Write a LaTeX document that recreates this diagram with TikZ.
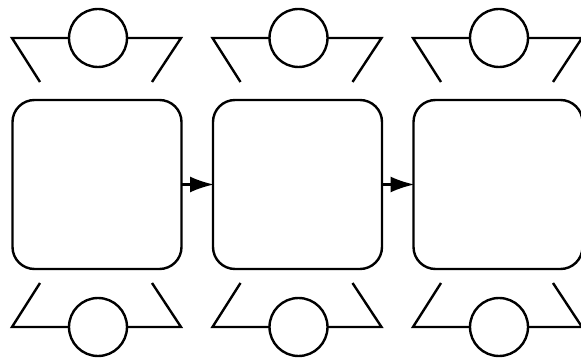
\documentclass[tikz,border=0pt]{standalone}
\usetikzlibrary{arrows.meta}
\begin{document}
\begin{tikzpicture}[x=1pt,y=-1pt,line width=2.4pt,
  stage/.style={draw,rounded corners=22pt,minimum width=169pt,minimum height=169pt,inner sep=0pt,outer sep=0pt},
  port/.style={draw,circle,minimum size=58pt,inner sep=0pt,outer sep=0pt},
  flow/.style={-{Latex[length=24pt,width=16pt]},line width=2.4pt,shorten >=-1pt},
  wing/.style={line join=miter,line cap=butt}]
\useasboundingbox (0,0) rectangle (581,363);
\clip (0,0) rectangle (581,363);
\foreach \i/\cx in {1/97,2/297.5,3/498}{
  \node[stage] (b\i) at (\cx,184.5) {};
  \node[port] (t\i) at (\cx+1,38) {};
  \node[port] (u\i) at (\cx+1,327) {};
  \coordinate (tl\i) at (\cx-85,38);
  \coordinate (tli\i) at (\cx-57,82);
  \coordinate (tr\i) at (\cx+84,38);
  \coordinate (tri\i) at (\cx+55,82);
  \coordinate (ul\i) at (\cx-85,327);
  \coordinate (uli\i) at (\cx-57,283);
  \coordinate (ur\i) at (\cx+84,327);
  \coordinate (uri\i) at (\cx+55,283);
  \draw[wing] (t\i.west) -- (tl\i) -- (tli\i);
  \draw[wing] (t\i.east) -- (tr\i) -- (tri\i);
  \draw[wing] (u\i.west) -- (ul\i) -- (uli\i);
  \draw[wing] (u\i.east) -- (ur\i) -- (uri\i);
}
\draw[flow] (b1.east) -- (b2.west);
\draw[flow] (b2.east) -- (b3.west);
\end{tikzpicture}
\end{document}
